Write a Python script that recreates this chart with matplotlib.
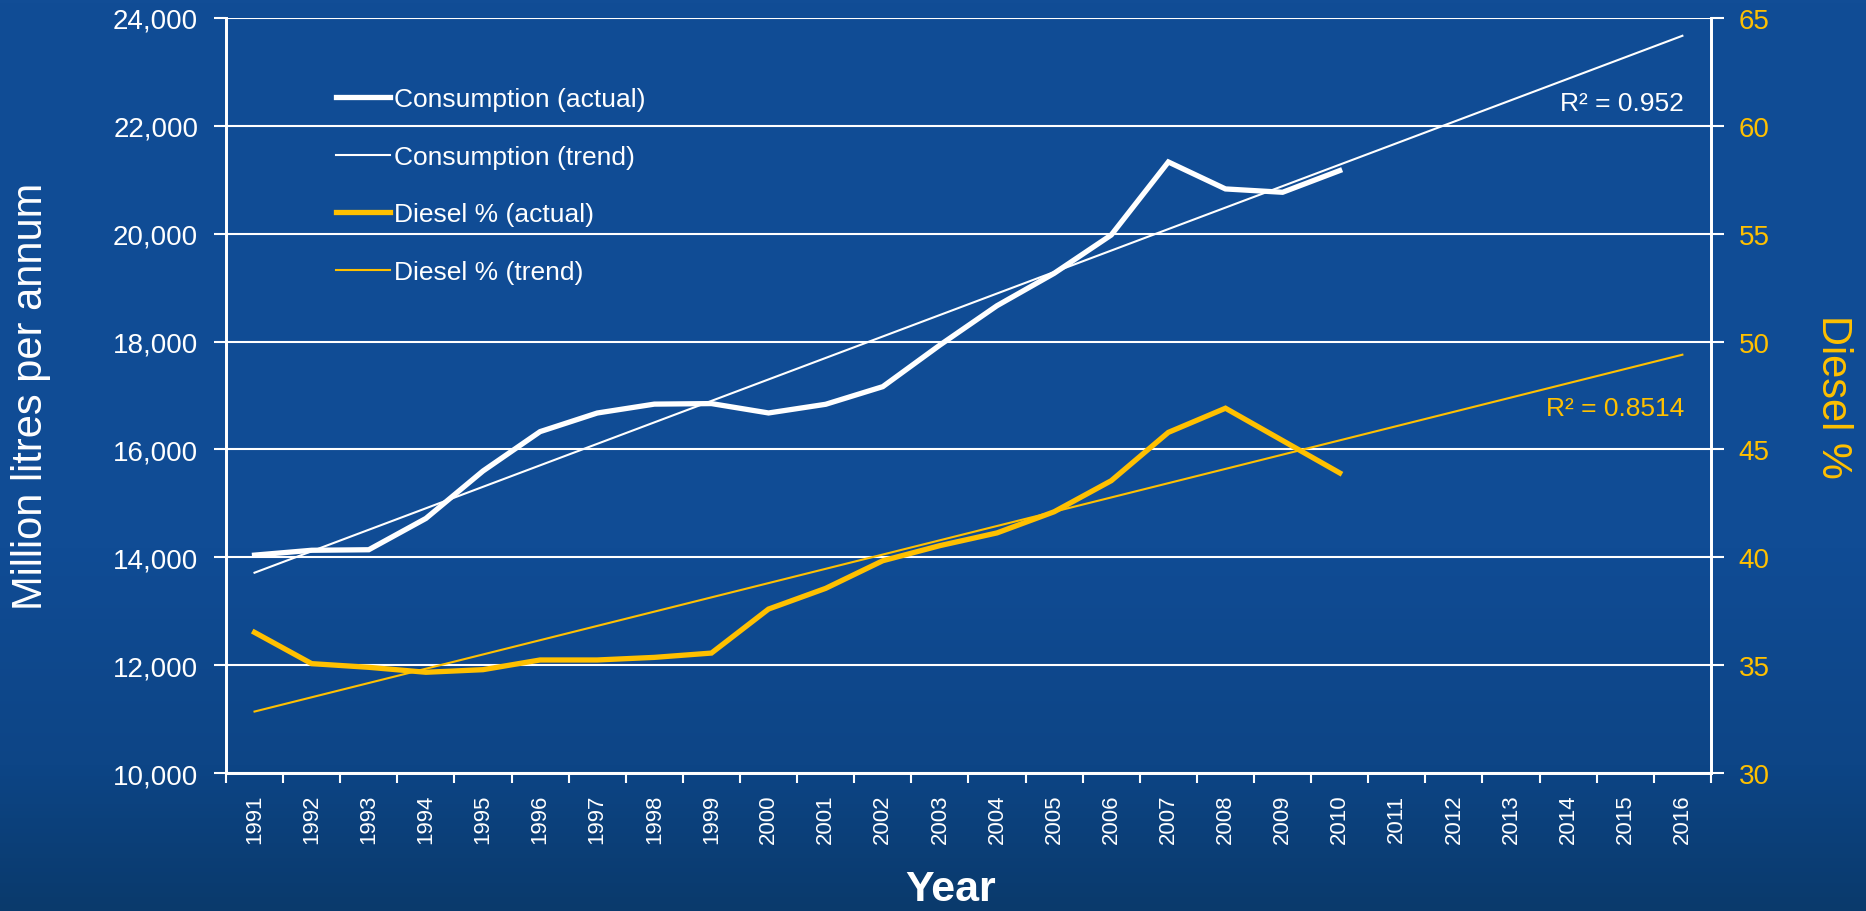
import numpy as np
import matplotlib
matplotlib.use("Agg")
import matplotlib.pyplot as plt
from matplotlib.colors import LinearSegmentedColormap

plt.rcParams['font.family'] = ['Liberation Sans', 'DejaVu Sans']

# ----------------------------------------------------------------------------
# Data
# ----------------------------------------------------------------------------
years = list(range(1991, 2017))
actual_years = list(range(1991, 2011))

consumption = [14040, 14130, 14140, 14720, 15600, 16330, 16675, 16840, 16850, 16676,
               16837, 17164, 17935, 18665, 19265, 19976, 21330, 20830, 20768, 21170]

diesel_pct = [36.52, 35.07, 34.90, 34.67, 34.79, 35.24, 35.24, 35.36, 35.56, 37.60,
              38.56, 39.84, 40.54, 41.13, 42.11, 43.55, 45.79, 46.91, 45.41, 43.91]

r2_consumption = "R² = 0.952"
r2_diesel = "R² = 0.8514"

WHITE = "#ffffff"
GOLD = "#ffc000"

# ----------------------------------------------------------------------------
# Linear trends (Excel style), extended to 2016
# ----------------------------------------------------------------------------
x_act = np.arange(len(actual_years))
x_all = np.arange(len(years))
c_fit = np.polyfit(x_act, consumption, 1)
d_fit = np.polyfit(x_act, diesel_pct, 1)
c_trend = np.polyval(c_fit, x_all)
d_trend = np.polyval(d_fit, x_all)

# ----------------------------------------------------------------------------
# Figure
# ----------------------------------------------------------------------------
fig = plt.figure(figsize=(18.66, 9.12), dpi=100)

# slide-like blue background
bg = fig.add_axes([0, 0, 1, 1], zorder=-10)
cmap = LinearSegmentedColormap.from_list(
    "slide", [(0.0, "#0a3a6c"), (0.16, "#0d4586"), (0.4, "#104c95"), (1.0, "#114d96")])
bg.imshow(np.linspace(0, 1, 256).reshape(-1, 1), aspect="auto", cmap=cmap,
          origin="lower", extent=[0, 1, 0, 1])
bg.axis("off")

ax = fig.add_axes([0.1211, 0.1513, 0.7958, 0.8279])
ax.set_facecolor("none")
ax2 = ax.twinx()

# left axis: consumption
l1, = ax.plot(x_act, consumption, color=WHITE, lw=3.8, solid_joinstyle="miter", zorder=4)
l2, = ax.plot(x_all, c_trend, color=WHITE, lw=1.5, zorder=3)
ax.set_ylim(10000, 24000)
ax.set_yticks(range(10000, 24001, 2000))
ax.set_yticklabels([f"{v:,}" for v in range(10000, 24001, 2000)])
ax.grid(axis="y", color=WHITE, lw=1.5)
ax.set_axisbelow(True)

# right axis: diesel share
l3, = ax2.plot(x_act, diesel_pct, color=GOLD, lw=3.8, solid_joinstyle="miter", zorder=4)
l4, = ax2.plot(x_all, d_trend, color=GOLD, lw=1.5, zorder=3)
ax2.set_ylim(30, 65)
ax2.set_yticks(range(30, 66, 5))

# x axis: categories with tick marks between them
ax.set_xlim(-0.5, len(years) - 0.5)
ax.set_xticks(np.arange(-0.5, len(years), 1.0))
ax.set_xticklabels([])
ax.set_xticks(x_all, minor=True)
ax.set_xticklabels([str(y) for y in years], minor=True, rotation=90)
ax.tick_params(axis="x", which="major", length=7, width=1.5, color=WHITE, direction="out")
ax.tick_params(axis="x", which="minor", length=0, pad=15, labelsize=16, labelcolor=WHITE)

ax.tick_params(axis="y", length=9, width=1.5, color=WHITE, pad=11,
               labelsize=20, labelcolor=WHITE)
ax2.tick_params(axis="y", length=9, width=1.5, color=WHITE, pad=11,
                labelsize=20, labelcolor=GOLD)

for a in (ax, ax2):
    a.spines["top"].set_visible(False)
    for s in ("left", "right", "bottom"):
        a.spines[s].set_color(WHITE)
        a.spines[s].set_linewidth(2)

# axis titles
ax.set_ylabel("Million litres per annum", fontsize=30, color=WHITE, va="center")
ax.yaxis.set_label_coords(-0.131, 0.5)
ax2.set_ylabel("Diesel %", fontsize=30, color=GOLD, rotation=-90, va="center")
ax2.yaxis.set_label_coords(1.082, 0.5)
ax.set_xlabel("Year", fontsize=31, fontweight="bold", color=WHITE, va="center")
ax.xaxis.set_label_coords(0.488, -0.154)

# R² labels
ax2.text(0.982, 0.887, r2_consumption, transform=ax2.transAxes, ha="right", va="center",
         fontsize=19, color=WHITE)
ax2.text(0.982, 0.483, r2_diesel, transform=ax2.transAxes, ha="right", va="center",
         fontsize=19, color=GOLD)

# legend (on the twin axes so it sits above both sets of lines)
leg = ax2.legend([l1, l2, l3, l4],
                 ["Consumption (actual)", "Consumption (trend)",
                  "Diesel % (actual)", "Diesel % (trend)"],
                 loc="upper left", bbox_to_anchor=(0.074, 0.908), frameon=False,
                 fontsize=19, handlelength=2.05, handletextpad=0.15,
                 labelspacing=1.27, borderpad=0, borderaxespad=0)
for t in leg.get_texts():
    t.set_color(WHITE)

fig.savefig("out.png", dpi=100)
